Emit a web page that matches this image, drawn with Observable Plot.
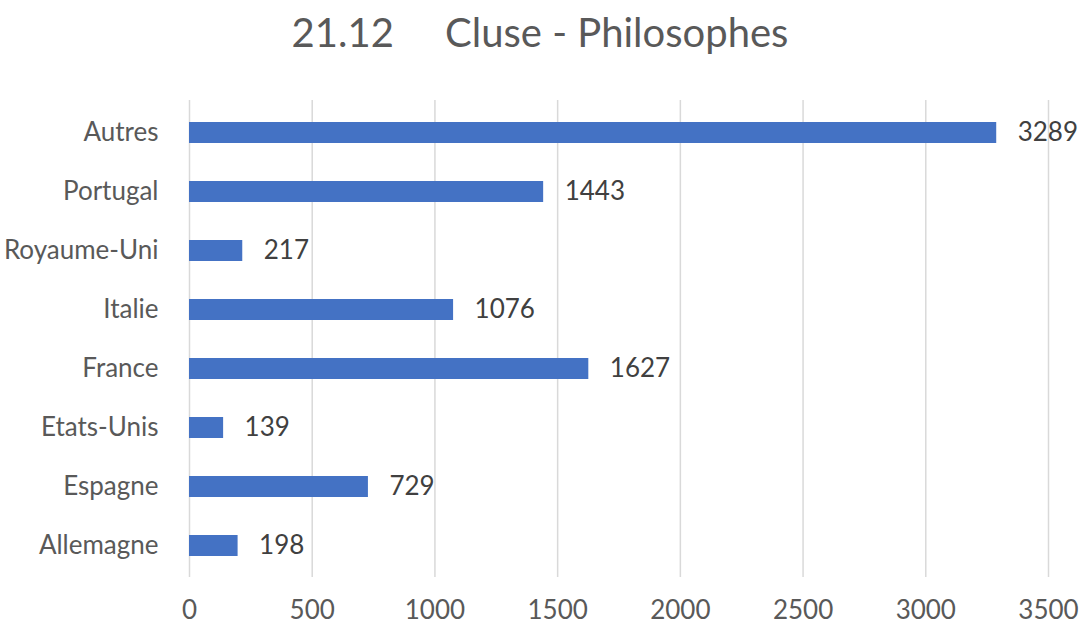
<!DOCTYPE html>
<html><head><meta charset="utf-8">
<script src="https://cdn.jsdelivr.net/npm/d3@7"></script>
<script src="https://cdn.jsdelivr.net/npm/@observablehq/plot@0.6"></script>
<style>
body{margin:0;background:#fff;font-family:Lato,sans-serif;}
#title{height:80px;position:relative;}
#title span{position:absolute;left:0;right:0;top:12px;text-align:center;white-space:pre;font-size:40px;line-height:40px;color:#595959;font-family:Lato,sans-serif;}
</style></head><body>
<div id="title"><span>21.12     Cluse - Philosophes</span></div>
<div id="chart"></div>
<script>
const countries = ["Autres","Portugal","Royaume-Uni","Italie","France","Etats-Unis","Espagne","Allemagne"];
const values = [3289,1443,217,1076,1627,139,729,198];
const xTicks = [0,500,1000,1500,2000,2500,3000,3500];
const data = countries.map((c,i)=>({country:c,value:values[i]}));
const chart = Plot.plot({
  width:1080, height:548, marginTop:20, marginBottom:51, marginLeft:189, marginRight:32,
  style:{fontFamily:"Lato, sans-serif", fontSize:"26px", color:"#595959", background:"white"},
  x:{domain:[0,3500], ticks:xTicks, tickFormat:d=>String(d), label:null, tickSize:0, tickPadding:23},
  y:{domain:countries, paddingInner:0.65, paddingOuter:0.325, label:null, tickSize:0, tickPadding:31},
  marks:[
    Plot.ruleX(xTicks,{stroke:"#d9d9d9",strokeWidth:1.5}),
    Plot.barX(data,{y:"country",x:"value",fill:"#4472C4"}),
    Plot.text(data,{y:"country",x:"value",text:d=>String(d.value),dx:21,textAnchor:"start",fill:"#404040",fontSize:26})
  ]
});
document.getElementById("chart").appendChild(chart);
</script>
</body></html>
